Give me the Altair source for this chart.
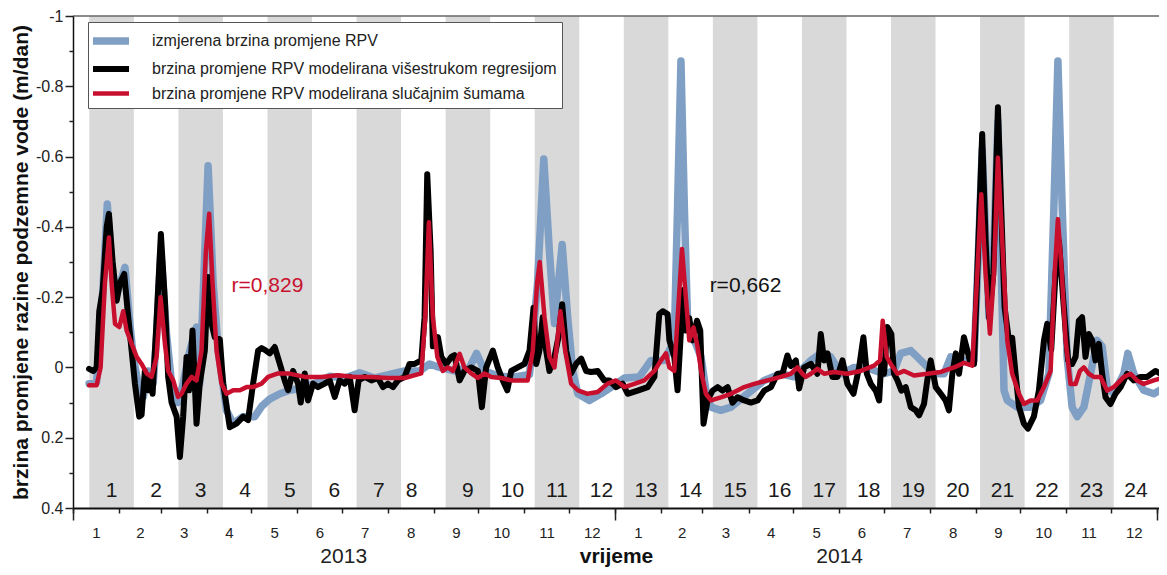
import altair as alt
import pandas as pd

FONT = "Liberation Sans, Arial, Helvetica, sans-serif"

SERIES = [
    "izmjerena brzina promjene RPV",
    "brzina promjene RPV modelirana višestrukom regresijom",
    "brzina promjene RPV modelirana slučajnim šumama",
]
COLORS = ["#7f9fc4", "#000000", "#c8102e"]
WIDTHS = [7.5, 4.5, 3]

# ---- measured (days since 2013-01-01, value m/dan) ----
meas_day = [10.8, 15.9, 20.4, 23.1, 26.0, 28.9, 35.0, 38.3, 40.6, 43.9, 47.3, 50.7, 54.0, 56.5, 59.2,
            63.0, 66.4, 70.8, 74.2, 78.7, 83.2, 85.4, 88.8, 91.0, 94.4, 97.8, 103.4, 107.9, 114.6,
            122.4, 127.2, 132.5, 139.3, 146.0, 152.7, 159.5, 166.2, 172.9, 183.0, 193.1, 203.2,
            213.3, 223.4, 233.5, 240.2, 246.9, 257.0, 267.1, 271.8, 277.2, 287.3, 297.4, 307.5,
            312.9, 317.1, 320.9, 324.3, 329.5, 333.2, 336.6, 340.0, 347.8, 355.7, 364.7, 371.4,
            381.5, 389.3, 398.3, 405.0, 407.2, 409.5, 411.8, 414.0, 418.5, 423.0, 426.3, 429.7,
            436.4, 443.2, 454.3, 465.6, 476.8, 485.8, 497.0, 503.7, 510.4, 517.2, 526.1, 537.4,
            546.3, 553.0, 557.5, 564.3, 571.0, 580.0, 586.7, 591.2, 597.9, 606.9, 609.6, 612.4,
            617.0, 620.3, 623.0, 627.1, 629.3, 636.0, 645.0, 651.7, 657.3, 660.7, 663.4, 666.3,
            669.6, 673.0, 676.4, 680.9, 685.4, 689.8, 693.2, 696.6, 701.1, 707.8, 710.5, 714.5,
            721.2, 728.0, 735.8]
meas_val = [0.046, 0.042, -0.24, -0.465, -0.30, -0.20, -0.285, -0.125, -0.03, 0.046, 0.084, 0.01, 0.046,
            -0.10, -0.33, -0.095, 0.046, 0.10, 0.046, -0.048, -0.115, 0.046, -0.33, -0.574, -0.24,
            -0.048, 0.122, 0.16, 0.14, 0.14, 0.11, 0.09, 0.075, 0.065, 0.06, 0.05, 0.04, 0.025, 0.03,
            0.015, 0.03, 0.02, 0.01, 0.01, -0.01, 0.0, 0.01, 0.0, -0.04, 0.01, 0.025, 0.027, 0.02,
            -0.24, -0.593, -0.33, -0.125, -0.35, -0.143, 0.01, 0.075, 0.094, 0.075, 0.05, 0.03,
            0.027, -0.02, -0.02, -0.077, -0.455, -0.872, -0.455, -0.125, -0.077, -0.03, 0.065,
            0.113, 0.122, 0.113, 0.075, 0.037, 0.018, 0.027, -0.02, -0.04, -0.03, 0.018, 0.0,
            0.005, 0.018, 0.01, -0.04, -0.048, -0.02, 0.018, 0.018, -0.03, -0.02, -0.02, -0.3,
            -0.62, -0.143, -0.35, -0.70, 0.065, 0.094, 0.113, 0.113, 0.094, 0.018, -0.455, -0.872,
            -0.455, -0.03, 0.113, 0.14, 0.113, 0.018, -0.077, -0.06, 0.056, 0.075, 0.018, -0.04,
            0.018, 0.065, 0.075, 0.056]

# ---- multiple regression model ----
mlr_day = [10.8, 13.7, 15.9, 17.7, 20.0, 22.7, 24.2, 26.7, 29.4, 31.6, 34.5, 37.2, 39.5, 41.7, 44.6,
           46.2, 48.4, 50.7, 51.8, 53.6, 55.8, 59.2, 61.9, 64.1, 66.4, 69.8, 72.0, 74.2, 76.5, 78.2,
           80.5, 83.2, 85.4, 88.8, 91.0, 93.3, 95.5, 98.9, 101.1, 105.6, 110.1, 114.6, 117.9, 121.3,
           124.7, 127.0, 129.2, 132.5, 135.9, 139.3, 142.6, 144.9, 148.2, 151.6, 153.4, 156.1, 158.3,
           161.7, 165.0, 169.5, 172.9, 176.3, 179.6, 183.0, 186.4, 189.7, 192.4, 196.5, 201.0, 205.4,
           208.8, 212.1, 215.5, 218.9, 223.4, 226.7, 230.1, 234.6, 236.8, 238.6, 240.9, 242.4, 245.8,
           248.1, 251.4, 254.8, 257.0, 260.4, 263.7, 268.2, 272.7, 275.4, 278.3, 282.8, 286.1, 289.5,
           292.5, 295.2, 299.6, 304.1, 307.5, 310.2, 312.0, 314.2, 316.4, 318.7, 320.9, 324.3, 327.0,
           329.5, 332.2, 335.5, 338.9, 342.3, 345.6, 349.0, 353.4, 357.9, 361.3, 365.8, 370.2, 373.6,
           380.3, 387.1, 391.6, 394.9, 397.2, 400.5, 401.7, 405.0, 407.2, 409.5, 411.1, 412.9, 415.1,
           417.3, 420.3, 422.5, 424.7, 427.4, 430.8, 434.2, 437.5, 440.9, 444.2, 447.6, 452.1, 456.6,
           461.1, 465.6, 470.1, 474.5, 477.9, 481.2, 483.5, 486.9, 489.1, 492.5, 497.0, 501.4, 503.7,
           505.9, 508.2, 511.5, 514.9, 518.3, 521.6, 525.7, 529.5, 532.4, 534.7, 537.4, 540.7, 543.0,
           544.5, 546.3, 548.5, 551.2, 553.0, 555.3, 558.0, 560.9, 564.3, 567.6, 569.9, 573.2, 575.4,
           577.7, 581.1, 584.5, 587.8, 590.0, 592.3, 594.6, 596.8, 600.1, 602.4, 604.6, 606.9, 609.1,
           612.4, 614.7, 617.0, 619.9, 623.0, 625.2, 627.5, 630.4, 632.6, 634.9, 637.2, 640.5, 643.2,
           647.2, 650.6, 654.0, 656.2, 658.9, 661.8, 664.1, 667.4, 670.3, 673.0, 675.3, 677.5, 679.7,
           682.0, 684.2, 686.5, 688.7, 691.0, 693.2, 695.5, 698.8, 702.2, 705.6, 710.0, 714.5, 719.0,
           723.5, 729.1, 732.5, 735.8]
mlr_val = [0.004, 0.01, 0.0, -0.16, -0.22, -0.40, -0.437, -0.30, -0.19, -0.24, -0.266, -0.143, -0.048,
           0.046, 0.14, 0.135, 0.01, 0.065, 0.03, 0.075, -0.095, -0.38, -0.19, 0.027, 0.10, 0.14,
           0.255, 0.14, -0.03, 0.065, -0.105, 0.16, 0.046, -0.048, -0.257, -0.125, -0.086, -0.08,
           0.046, 0.17, 0.16, 0.14, 0.15, 0.046, -0.048, -0.055, -0.05, -0.04, -0.058, -0.01, 0.037,
           0.065, 0.01, 0.046, 0.10, 0.017, 0.094, 0.046, 0.056, 0.046, 0.037, 0.084, 0.037, 0.046,
           0.027, 0.122, 0.037, 0.027, 0.037, 0.03, 0.056, 0.046, 0.056, 0.037, 0.027, -0.01, -0.01,
           -0.02, -0.143, -0.55, -0.33, -0.06, -0.086, -0.03, -0.01, -0.03, -0.035, 0.037, 0.01, 0.0,
           0.01, 0.113, 0.0, -0.048, 0.0, 0.037, 0.065, 0.01, 0.0, -0.01, -0.048, -0.17, -0.01,
           -0.048, -0.143, -0.048, 0.01, -0.03, -0.086, -0.18, -0.048, 0.017, -0.01, -0.025, 0.01,
           0.013, 0.01, 0.037, 0.037, 0.056, 0.046, 0.075, 0.066, 0.056, 0.027, -0.152, -0.16,
           -0.152, -0.077, -0.03, 0.065, -0.105, -0.22, -0.105, -0.14, -0.077, -0.133, -0.105, 0.16,
           0.094, 0.066, 0.056, 0.066, 0.056, 0.10, 0.085, 0.094, 0.10, 0.094, 0.066, 0.056, 0.018,
           0.018, -0.034, -0.004, -0.02, 0.06, 0.0, -0.01, 0.018, -0.095, -0.02, -0.04, 0.027, 0.027,
           -0.02, 0.047, 0.075, 0.0, -0.086, 0.018, 0.047, 0.066, 0.094, -0.02, 0.018, -0.115,
           -0.095, 0.018, 0.037, 0.066, 0.056, 0.113, 0.122, 0.136, 0.104, 0.037, -0.02, 0.056,
           0.075, 0.094, 0.122, 0.018, -0.04, 0.018, -0.086, -0.048, -0.01, -0.01, -0.266, -0.664,
           -0.36, -0.143, -0.266, -0.74, -0.455, -0.17, -0.077, -0.084, 0.018, 0.113, 0.16, 0.174,
           0.14, 0.066, -0.077, -0.124, -0.05, -0.266, -0.36, -0.17, -0.02, -0.01, -0.03, -0.133,
           -0.143, -0.03, -0.095, -0.077, -0.02, -0.067, 0.018, 0.085, 0.104, 0.075, 0.056, 0.018,
           0.037, 0.027, 0.027, 0.01, 0.018, 0.0]

# ---- random forest model ----
rf_day = [10.8, 15.9, 18.6, 21.5, 24.2, 26.0, 28.3, 31.2, 33.8, 36.1, 39.5, 42.9, 46.2, 49.6, 52.9,
          56.3, 59.0, 61.9, 64.1, 67.5, 70.8, 73.1, 76.5, 79.9, 83.2, 86.6, 89.5, 91.7, 94.0, 96.7,
          100.0, 103.4, 107.9, 112.4, 116.9, 121.3, 127.0, 131.4, 138.1, 144.9, 156.1, 167.3, 178.5,
          189.7, 201.0, 212.1, 223.4, 234.6, 237.3, 239.7, 242.4, 245.4, 249.1, 252.5, 255.9, 260.4,
          263.7, 268.2, 272.7, 277.2, 281.7, 288.4, 295.2, 301.9, 306.3, 309.7, 312.6, 314.4, 317.6,
          320.9, 324.3, 328.3, 331.5, 335.5, 340.0, 346.7, 353.4, 360.1, 365.8, 371.4, 378.1, 384.8,
          391.6, 396.1, 399.4, 401.7, 405.0, 407.7, 410.2, 412.4, 415.1, 418.0, 420.7, 423.4, 426.3,
          429.7, 436.4, 443.2, 452.1, 458.8, 467.8, 476.8, 483.5, 488.0, 491.3, 493.6, 497.0, 501.4,
          505.9, 512.7, 521.6, 530.6, 539.6, 543.6, 545.4, 548.1, 550.8, 555.3, 559.8, 566.5, 575.4,
          584.5, 593.4, 600.1, 605.7, 609.1, 611.8, 614.7, 617.6, 620.3, 623.0, 625.9, 629.3, 632.6,
          637.2, 640.5, 645.0, 649.5, 654.0, 658.5, 661.2, 663.4, 665.6, 668.6, 671.9, 675.3, 678.2,
          680.9, 684.2, 687.6, 692.1, 696.6, 701.1, 707.8, 712.3, 716.7, 721.2, 728.0, 735.8]
rf_val = [0.051, 0.051, 0.0, -0.24, -0.37, -0.24, -0.124, -0.115, -0.16, -0.105, -0.067, -0.03, -0.01,
          0.017, 0.027, -0.03, -0.20, -0.067, 0.01, 0.037, 0.084, 0.075, 0.046, 0.027, 0.037, -0.048,
          -0.33, -0.437, -0.24, -0.048, 0.046, 0.075, 0.065, 0.065, 0.056, 0.056, 0.046, 0.027, 0.017,
          0.017, 0.027, 0.027, 0.022, 0.027, 0.027, 0.03, 0.03, 0.017, -0.143, -0.413, -0.143, -0.03,
          0.01, 0.0, 0.01, -0.039, 0.0, 0.017, 0.03, 0.017, 0.027, 0.03, 0.037, 0.037, 0.037, -0.048,
          -0.24, -0.30, -0.143, -0.03, 0.0, -0.16, -0.048, 0.046, 0.065, 0.075, 0.07, 0.046, 0.037,
          0.056, 0.047, 0.037, 0.01, -0.02, -0.04, 0.0, 0.01, -0.17, -0.337, -0.22, -0.077, -0.114,
          -0.057, 0.018, 0.075, 0.094, 0.085, 0.075, 0.056, 0.047, 0.037, 0.027, 0.018, 0.0, 0.018,
          0.027, 0.018, 0.004, 0.018, 0.013, 0.018, 0.01, -0.005, -0.02, -0.133, -0.03, -0.01, 0.018,
          0.01, 0.023, 0.018, 0.013, 0.0, -0.013, -0.005, -0.266, -0.493, -0.266, -0.096, -0.266,
          -0.597, -0.36, -0.077, 0.018, 0.075, 0.104, 0.094, 0.094, 0.056, 0.01, -0.266, -0.422,
          -0.30, -0.077, 0.047, 0.047, 0.01, 0.0, 0.018, 0.027, 0.027, 0.066, 0.056, 0.027, 0.018,
          0.037, 0.047, 0.037, 0.027]

# ---- 30-day periods (boundaries, days since 2013-01-01) ----
PERIOD_BOUNDS = [11, 41, 71, 101, 131, 161, 191, 221, 251, 281, 311, 341, 371, 401, 431, 461, 491,
                 521, 551, 581, 611, 641, 671, 701, 731]
PERIOD_LABELS = [str(i) for i in range(1, 25)]
PERIOD_LABEL_DAY = [26, 56, 86, 116, 146, 176, 206, 228, 266, 296, 326, 356, 386, 416, 446, 476,
                    506, 536, 566, 596, 626, 656, 686, 716]
PERIOD_LABEL_Y = 0.352

ANN_TEXT = ["r=0,829", "r=0,662"]
ANN_DAY = [131, 453]
ANN_VAL = [-0.233, -0.233]
ANN_COLOR = ["#c8102e", "#111111"]

Y_MAJOR = [-1, -0.8, -0.6, -0.4, -0.2, 0, 0.2, 0.4]
Y_MINOR = [-0.9, -0.7, -0.5, -0.3, -0.1, 0.1, 0.3]

origin = pd.Timestamp("2013-01-01")
MONTH_STARTS = [(d - origin).days for d in pd.date_range("2013-01-01", "2015-01-01", freq="MS")]
MONTH_MIDS = [(a + b) / 2 for a, b in zip(MONTH_STARTS[:-1], MONTH_STARTS[1:])]
YEAR_TICKS = [0, 365, 730]
YEAR_LABEL_DAY = [182, 516]

xscale = alt.Scale(domain=[0, 731.5], nice=False, zero=False)
yscale = alt.Scale(domain=[-1, 0.4], reverse=True, nice=False, zero=False)
cscale = alt.Scale(domain=SERIES, range=COLORS)
wscale = alt.Scale(domain=SERIES, range=WIDTHS)

AX = dict(orient="bottom", grid=False, title=None, zindex=1, tickColor="#222", tickWidth=1.5)
ax_month_ticks = alt.Axis(values=MONTH_STARTS, tickSize=5, labels=False, domain=True,
                          domainColor="#111", domainWidth=2, **AX)
ax_year_ticks = alt.Axis(values=YEAR_TICKS, tickSize=12, labels=False, domain=False, **AX)
ax_month_labels = alt.Axis(values=MONTH_MIDS, ticks=False, domain=False, labelFontSize=15,
                           labelPadding=17, labelColor="#222", labelOverlap=False, labelFlush=False,
                           labelExpr="month(datetime(2013, 0, 1 + datum.value)) + 1", **AX)
ax_year_labels = alt.Axis(values=YEAR_LABEL_DAY, ticks=False, domain=False, labelFontSize=21,
                          labelPadding=37, labelColor="#222", labelOverlap=False, labelFlush=False,
                          labelExpr="year(datetime(2013, 0, 1 + datum.value))",
                          orient="bottom", grid=False, zindex=1,
                          title="vrijeme", titleFontSize=21, titleFontWeight="bold",
                          titleColor="#111", titleY=54, titleBaseline="alphabetic")
ax_y_major = alt.Axis(values=Y_MAJOR, orient="left", grid=False, zindex=1, tickSize=8,
                      tickColor="#222", tickWidth=1.5, domainColor="#111", domainWidth=1.5,
                      labelFontSize=16, labelPadding=2, labelColor="#222",
                      labelExpr="replace(format(datum.value, '~g'), '\u2212', '-')",
                      title="brzina promjene razine podzemne vode (m/dan)", titleFontSize=21,
                      titleFontWeight="bold", titleColor="#111", titlePadding=4)
ax_y_minor = alt.Axis(values=Y_MINOR, orient="left", grid=False, zindex=1, tickSize=4,
                      tickColor="#222", tickWidth=1.5, labels=False, domain=False, title=None)

leg = alt.Legend(title=None, orient="none", legendX=15, legendY=6,
                 symbolType="M-1.4,0L2.2,0", symbolSize=400, labelOffset=31,
                 labelFontSize=16, labelFont=FONT, labelColor="#222", labelLimit=700,
                 padding=5, rowPadding=0, strokeColor="#555", fillColor="white")

bands_df = pd.DataFrame({
    "start": PERIOD_BOUNDS[0:24:2],
    "end": PERIOD_BOUNDS[1:25:2],
    "top": -1.0,
    "bottom": 0.4,
})
bands = alt.Chart(bands_df).mark_rect(color="#d9d9d9").encode(
    x=alt.X("start:Q", scale=xscale, axis=ax_month_ticks),
    x2="end:Q",
    y=alt.Y("top:Q", scale=yscale, axis=ax_y_major),
    y2="bottom:Q",
)

frame = alt.Chart(pd.DataFrame({"v": [-1.0]})).mark_rule(color="#666666", strokeWidth=1.5).encode(
    y=alt.Y("v:Q", scale=yscale, axis=ax_y_minor)
)

lab_df = pd.DataFrame({"day": PERIOD_LABEL_DAY, "y": PERIOD_LABEL_Y, "label": PERIOD_LABELS})
labels = alt.Chart(lab_df).mark_text(fontSize=21, color="#1a1a1a", font=FONT).encode(
    x=alt.X("day:Q", scale=xscale, axis=ax_year_ticks),
    y=alt.Y("y:Q", scale=yscale, axis=None),
    text="label:N",
)


def line_layer(days, vals, idx, axis):
    df = pd.DataFrame({"day": days, "value": vals, "series": SERIES[idx]})
    return alt.Chart(df).mark_line(clip=True, strokeCap="round", strokeJoin="round").encode(
        x=alt.X("day:Q", scale=xscale, axis=axis),
        y=alt.Y("value:Q", scale=yscale, axis=None),
        color=alt.Color("series:N", scale=cscale, legend=leg),
        strokeWidth=alt.StrokeWidth("series:N", scale=wscale, legend=leg),
    )


l_meas = line_layer(meas_day, meas_val, 0, ax_month_labels)
l_mlr = line_layer(mlr_day, mlr_val, 1, ax_year_labels)
l_rf = line_layer(rf_day, rf_val, 2, None)

ann_layers = []
for t, d, v, c in zip(ANN_TEXT, ANN_DAY, ANN_VAL, ANN_COLOR):
    adf = pd.DataFrame({"day": [d], "value": [v], "text": [t]})
    ann_layers.append(
        alt.Chart(adf).mark_text(fontSize=21, color=c, font=FONT).encode(
            x=alt.X("day:Q", scale=xscale, axis=None),
            y=alt.Y("value:Q", scale=yscale, axis=None),
            text="text:N",
        )
    )

chart = (
    alt.layer(bands, frame, labels, l_meas, l_mlr, l_rf, *ann_layers)
    .resolve_axis(x="independent", y="independent")
    .properties(
        width=1086,
        height=492,
        padding={"left": 65, "top": 8, "right": 0, "bottom": 59},
        autosize=alt.AutoSizeParams(type="none"),
        background="white",
    )
    .configure(font=FONT)
    .configure_view(stroke=None)
    .configure_axis(labelFont=FONT, titleFont=FONT)
)

chart.save("out.html", embed_options={"renderer": "svg", "actions": False})
